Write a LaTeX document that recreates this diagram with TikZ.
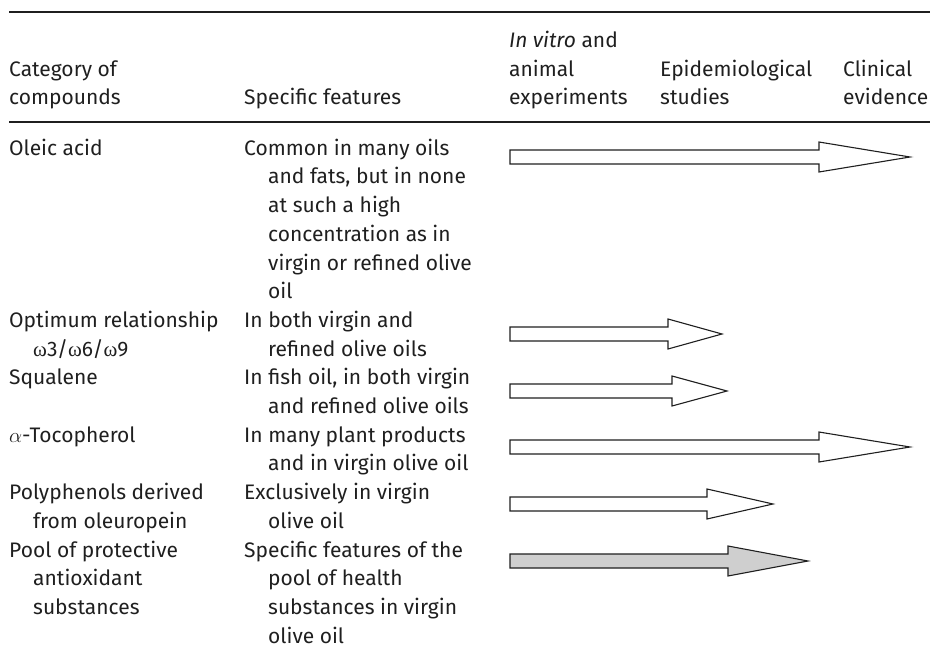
\documentclass[tikz,border=0pt]{standalone}
\usepackage{fontspec}
\setmainfont{Fira Sans}
\newfontfamily\grkfont{Liberation Serif}
\colorlet{inkgray}{black!88}
\colorlet{poolgray}{gray!38}
% continuation lines of a cell
\newcommand{\ind}{\hspace*{24pt}}
% block arrow: centre y, head start x, tip x, fill colour
\newcommand{\evarrow}[4]{%
  \filldraw[fill=#4, draw=inkgray, line width=1.1pt]
    (510,#1-7) -- (#2,#1-7) -- (#2,#1-15) -- (#3,#1) -- (#2,#1+15) -- (#2,#1+7) -- (510,#1+7) -- cycle;}

\begin{document}
\begin{tikzpicture}[x=1pt, y=-1pt,
    cell/.style={anchor=north west, inner sep=0pt, align=left, text=inkgray,
      font=\fontsize{21}{28.7}\selectfont}]
            \useasboundingbox (0,0) rectangle (930,658);
            % rules
            \draw[inkgray, line width=1.2pt] (9,12) -- (930,12);
            \draw[inkgray, line width=1.2pt] (9,122) -- (930,122);
            % header
            \node[cell] (head-cat) at (9,56) {\strut Category of\\compounds};
            \node[cell] (head-feat) at (244,84.7) {\strut Specific features};
            \node[cell] (head-vitro) at (509,27.3) {\strut\textit{In vitro} and\\animal\\experiments};
            \node[cell] (head-epi) at (660,56) {\strut Epidemiological\\studies};
            \node[cell] (head-clin) at (843,56) {\strut Clinical\\evidence};
            % compounds
            \node[cell] (cat-oleic) at (9,135) {\strut Oleic acid};
            \node[cell] (cat-omega) at (9,307.2) {\strut Optimum relationship\\\ind{\grkfont ω}3/{\grkfont ω}6/{\grkfont ω}9};
            \node[cell] (cat-squal) at (9,364.6) {\strut Squalene};
            \node[cell] (cat-toco) at (9,422) {\strut $\alpha$-Tocopherol};
            \node[cell] (cat-poly) at (9,479.4) {\strut Polyphenols derived\\\ind from oleuropein};
            \node[cell] (cat-pool) at (9,536.8) {\strut Pool of protective\\\ind antioxidant\\\ind substances};
            % features
            \node[cell] (feat-oleic) at (244,135) {\strut Common in many oils\\\ind and fats, but in none\\\ind at such a high\\\ind concentration as in\\\ind virgin or refined olive\\\ind oil};
            \node[cell] (feat-omega) at (244,307.2) {\strut In both virgin and\\\ind refined olive oils};
            \node[cell] (feat-squal) at (244,364.6) {\strut In fish oil, in both virgin\\\ind and refined olive oils};
            \node[cell] (feat-toco) at (244,422) {\strut In many plant products\\\ind and in virgin olive oil};
            \node[cell] (feat-poly) at (244,479.4) {\strut Exclusively in virgin\\\ind olive oil};
            \node[cell] (feat-pool) at (244,536.8) {\strut Specific features of the\\\ind pool of health\\\ind substances in virgin\\\ind olive oil};
            % evidence arrows
            \evarrow{157}{819}{910}{white}
            \evarrow{334}{668}{722}{white}
            \evarrow{391}{672}{727}{white}
            \evarrow{447}{819}{910}{white}
            \evarrow{504}{707}{773}{white}
            \evarrow{561}{728}{808}{poolgray}
        \end{tikzpicture}
\end{document}
